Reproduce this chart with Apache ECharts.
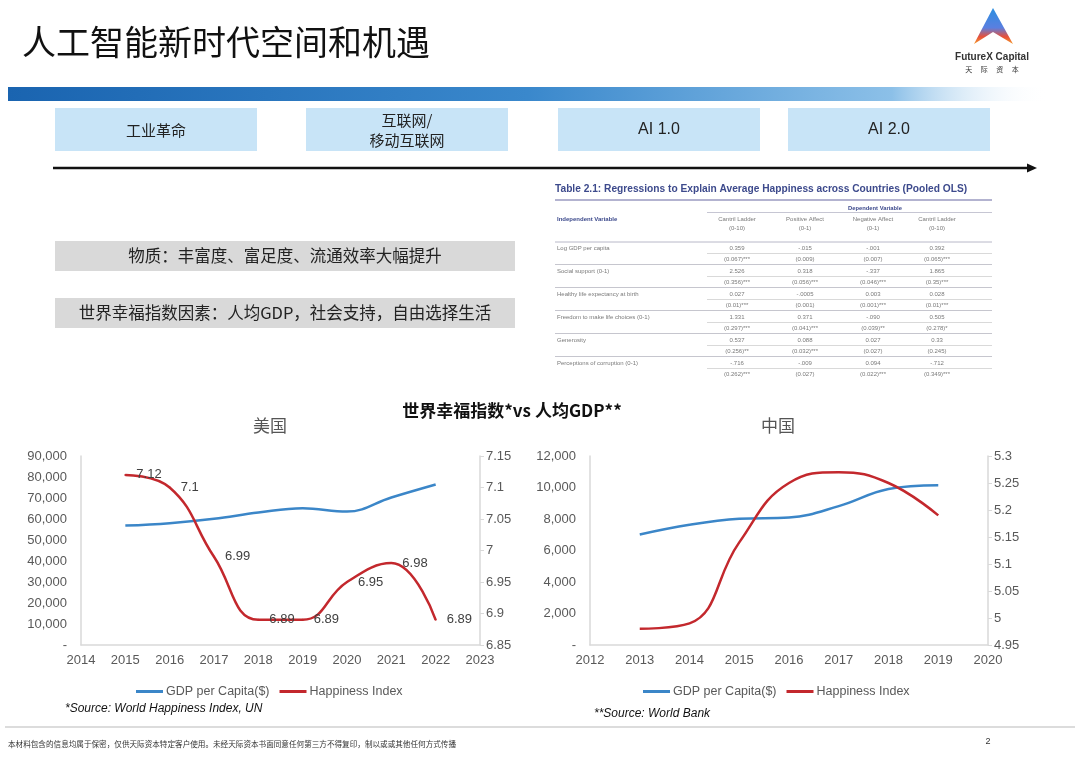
<!DOCTYPE html>
<html><head><meta charset="utf-8">
<script src="https://cdn.jsdelivr.net/npm/echarts@6/dist/echarts.min.js"></script>
<style>html,body{margin:0;padding:0;background:#fff;}#c{width:1080px;height:769px;}</style>
</head><body><div id="c"></div>
<script>
// ---- data ----
const usYears = [2015, 2016, 2017, 2018, 2019, 2020, 2021, 2022];
const usGDP = [56863, 58021, 60110, 63064, 65120, 63530, 70219, 76399];
const usHappy = [7.12, 7.1, 6.99, 6.89, 6.89, 6.95, 6.98, 6.89];
const cnYears = [2013, 2014, 2015, 2016, 2017, 2018, 2019];
const cnGDP = [7020, 7636, 8016, 8094, 8817, 9905, 10144];
const cnHappy = [4.98, 4.99, 5.14, 5.25, 5.27, 5.25, 5.19];
const seriesNames = ['GDP per Capita($)', 'Happiness Index'];
const eraLabels = ['工业革命', '互联网/\n移动互联网', 'AI 1.0', 'AI 2.0'];
const noteLines = ['物质：丰富度、富足度、流通效率大幅提升', '世界幸福指数因素：人均GDP，社会支持，自由选择生活'];
const tableTitle = 'Table 2.1: Regressions to Explain Average Happiness across Countries (Pooled OLS)';
const tableCols = ['Cantril Ladder\n(0-10)', 'Positive Affect\n(0-1)', 'Negative Affect\n(0-1)', 'Cantril Ladder\n(0-10)'];
const tableRows = ['Log GDP per capita', 'Social support (0-1)', 'Healthy life expectancy at birth', 'Freedom to make life choices (0-1)', 'Generosity', 'Perceptions of corruption (0-1)'];
const tableCoef = [
  ['0.359', '-.015', '-.001', '0.392'],
  ['2.526', '0.318', '-.337', '1.865'],
  ['0.027', '-.0005', '0.003', '0.028'],
  ['1.331', '0.371', '-.090', '0.505'],
  ['0.537', '0.088', '0.027', '0.33'],
  ['-.716', '-.009', '0.094', '-.712']
];
const tableSE = [
  ['(0.067)***', '(0.009)', '(0.007)', '(0.065)***'],
  ['(0.356)***', '(0.056)***', '(0.046)***', '(0.35)***'],
  ['(0.01)***', '(0.001)', '(0.001)***', '(0.01)***'],
  ['(0.297)***', '(0.041)***', '(0.039)**', '(0.278)*'],
  ['(0.256)**', '(0.032)***', '(0.027)', '(0.245)'],
  ['(0.262)***', '(0.027)', '(0.022)***', '(0.349)***']
];

const BLUE = '#3b86c8', RED = '#c3282d', AX = '#d9d9d9', LAB = '#595959';
const CJK = '"Noto Sans CJK SC", sans-serif';
const LAT = '"Liberation Sans", Arial, sans-serif';

function T(x, y, text, o) {
  return { type: 'text', x: x, y: y, silent: true, z: 10,
    style: Object.assign({ text: text, fill: '#222', fontSize: 12, fontFamily: CJK, align: 'left', verticalAlign: 'middle' }, o || {}) };
}
function R(x, y, w, h, fill) { return { type: 'rect', silent: true, shape: { x: x, y: y, width: w, height: h }, style: { fill: fill } }; }
function L(x1, y1, x2, y2, color, w) { return { type: 'line', silent: true, shape: { x1: x1, y1: y1, x2: x2, y2: y2 }, style: { stroke: color, lineWidth: w } }; }

const g = [];
// title
g.push(T(22, 42, '人工智能新时代空间和机遇', { fontSize: 34, fill: '#111' }));
// logo
g.push({ type: 'polygon', silent: true, shape: { points: [[993, 8], [1013, 44], [993, 32], [974, 44]] },
  style: { fill: { type: 'linear', x: 0, y: 0, x2: 0, y2: 1, colorStops: [{ offset: 0, color: '#2b8fe0' }, { offset: 0.55, color: '#5a7fe0' }, { offset: 0.8, color: '#e8503a' }, { offset: 1, color: '#f39a2a' }] } } });
g.push(T(992, 57, 'FutureX Capital', { fontSize: 10, fontWeight: 'bold', fontFamily: LAT, fill: '#333', align: 'center' }));
g.push(T(992, 69, '天　 际　 资　 本', { fontSize: 7, fill: '#333', align: 'center' }));
// gradient bar
g.push({ type: 'rect', silent: true, shape: { x: 8, y: 87, width: 1040, height: 14 },
  style: { fill: { type: 'linear', x: 0, y: 0, x2: 1, y2: 0, colorStops: [{ offset: 0, color: '#1a64b0' }, { offset: 0.5, color: '#3a88cc' }, { offset: 0.85, color: '#8cc0e8' }, { offset: 1, color: 'rgba(255,255,255,0)' }] } } });
// era boxes
const boxX = [55, 306, 558, 788];
eraLabels.forEach(function (t, i) {
  g.push(R(boxX[i], 108, 202, 43, '#c8e4f7'));
  const isAI = t.indexOf('AI') === 0;
  g.push(T(boxX[i] + 101, 130, t, { fontSize: isAI ? 16 : 15, align: 'center', fill: '#222', lineHeight: 20, fontFamily: isAI ? LAT : CJK }));
});
// arrow
g.push(L(53, 168, 1030, 168, '#111', 2.5));
g.push({ type: 'polygon', silent: true, shape: { points: [[1027, 163.5], [1037, 168], [1027, 172.5]] }, style: { fill: '#111' } });
// grey note boxes
[241, 298].forEach(function (y, i) {
  g.push(R(55, y, 460, 30, '#d9d9d9'));
  g.push(T(285, y + 15, noteLines[i], { fontSize: 16.5, align: 'center', fill: '#222' }));
});
// table
const TC = '#3d4a8c', TG = '#7a7a7a';
g.push(T(555, 189, tableTitle, { fontSize: 10.2, fontWeight: 'bold', fontFamily: LAT, fill: TC }));
g.push(L(555, 200, 992, 200, '#9a9ac0', 1.5));
g.push(T(875, 208, 'Dependent Variable', { fontSize: 5.8, fontWeight: 'bold', fontFamily: LAT, fill: TC, align: 'center' }));
g.push(L(707, 212.5, 992, 212.5, '#b8b8c8', 0.8));
g.push(T(557, 219, 'Independent Variable', { fontSize: 6, fontWeight: 'bold', fontFamily: LAT, fill: TC }));
const colX = [737, 805, 873, 937];
tableCols.forEach(function (c, i) {
  g.push(T(colX[i], 223.5, c, { fontSize: 6, fontFamily: LAT, fill: TG, align: 'center', lineHeight: 9 }));
});
g.push(L(555, 242, 992, 242, '#b8b8c8', 1));
tableRows.forEach(function (r, k) {
  const y0 = 248 + k * 23;
  g.push(T(557, y0, r, { fontSize: 6, fontFamily: LAT, fill: TG }));
  for (let j = 0; j < 4; j++) {
    g.push(T(colX[j], y0, tableCoef[k][j], { fontSize: 6, fontFamily: LAT, fill: TG, align: 'center' }));
    g.push(T(colX[j], y0 + 11, tableSE[k][j], { fontSize: 6, fontFamily: LAT, fill: TG, align: 'center' }));
  }
  g.push(L(707, y0 + 5.5, 992, y0 + 5.5, '#c8c8c8', 0.7));
  if (k < tableRows.length - 1) g.push(L(555, y0 + 16.5, 992, y0 + 16.5, '#c0c0c8', 0.9));
});
// chart titles
g.push(T(512, 411, '世界幸福指数*vs 人均GDP**', { fontSize: 17, fontWeight: 'bold', align: 'center', fill: '#111' }));
g.push(T(270, 426, '美国', { fontSize: 17, align: 'center', fill: '#555' }));
g.push(T(778, 426, '中国', { fontSize: 17, align: 'center', fill: '#555' }));
// sources
g.push(T(65, 709, '*Source: World Happiness Index, UN', { fontSize: 12, fontStyle: 'italic', fontFamily: LAT, fill: '#111' }));
g.push(T(594, 714, '**Source: World Bank', { fontSize: 12, fontStyle: 'italic', fontFamily: LAT, fill: '#111' }));
// footer
g.push(L(5, 727, 1075, 727, '#d0d0d0', 1.5));
g.push(T(8, 744, '本材料包含的信息均属于保密，仅供天际资本特定客户使用。未经天际资本书面同意任何第三方不得复印，制以或或其他任何方式传播', { fontSize: 7.6, fill: '#333' }));
g.push(T(988, 742, '2', { fontSize: 9, fontFamily: LAT, fill: '#333', align: 'center' }));

function pairs(xs, ys) { return xs.map(function (x, i) { return [x, ys[i]]; }); }
const axLabel = { color: LAB, fontSize: 13, fontFamily: LAT };
function xAxis(idx, min, max) {
  return { type: 'value', gridIndex: idx, min: min, max: max, interval: 1,
    axisLine: { show: true, lineStyle: { color: AX, width: 1.5 } }, axisTick: { show: false }, splitLine: { show: false },
    axisLabel: Object.assign({ margin: 9, formatter: function (v) { return String(v); } }, axLabel) };
}
function yLeft(idx, max, interval) {
  return { type: 'value', gridIndex: idx, position: 'left', min: 0, max: max, interval: interval,
    axisLine: { show: true, lineStyle: { color: AX, width: 1.5 } }, axisTick: { show: false }, splitLine: { show: false },
    axisLabel: Object.assign({ margin: 14, formatter: function (v) { return v === 0 ? '-' : v.toLocaleString('en-US'); } }, axLabel) };
}
function yRight(idx, min, max) {
  return { type: 'value', gridIndex: idx, position: 'right', min: min, max: max, interval: 0.05,
    axisLine: { show: true, lineStyle: { color: AX, width: 1.5 } }, axisTick: { show: true, length: 4, lineStyle: { color: AX } }, splitLine: { show: false },
    axisLabel: Object.assign({ margin: 6, formatter: function (v) { return String(Math.round(v * 100) / 100); } }, axLabel) };
}
function legend(left) {
  return { left: left, top: 680, itemWidth: 27, itemHeight: 3, itemGap: 10, icon: 'rect', data: seriesNames,
    textStyle: { color: LAB, fontSize: 12.5, fontFamily: LAT, padding: [0, 0, 0, -2] } };
}

const option = {
  backgroundColor: '#fff',
  animation: false,
  graphic: g,
  grid: [
    { left: 81, top: 456, width: 399, height: 189 },
    { left: 590, top: 456, width: 398, height: 189 }
  ],
  legend: [legend(131), legend(638)],
  xAxis: [xAxis(0, 2014, 2023), xAxis(1, 2012, 2020)],
  yAxis: [yLeft(0, 90000, 10000), yRight(0, 6.85, 7.15), yLeft(1, 12000, 2000), yRight(1, 4.95, 5.3)],
  series: [
    { name: seriesNames[0], type: 'line', xAxisIndex: 0, yAxisIndex: 0, smooth: 0.4, showSymbol: false,
      data: pairs(usYears, usGDP), lineStyle: { color: BLUE, width: 2.5 }, itemStyle: { color: BLUE } },
    { name: seriesNames[1], type: 'line', xAxisIndex: 0, yAxisIndex: 1, smooth: 0.45, symbol: 'circle', symbolSize: 2,
      data: pairs(usYears, usHappy), lineStyle: { color: RED, width: 2.5 }, itemStyle: { color: RED },
      label: { show: true, position: 'right', distance: 10, color: '#404040', fontSize: 13, fontFamily: LAT,
        formatter: function (p) { return String(p.value[1]); } } },
    { name: seriesNames[0], type: 'line', xAxisIndex: 1, yAxisIndex: 2, smooth: 0.4, showSymbol: false,
      data: pairs(cnYears, cnGDP), lineStyle: { color: BLUE, width: 2.5 }, itemStyle: { color: BLUE } },
    { name: seriesNames[1], type: 'line', xAxisIndex: 1, yAxisIndex: 3, smooth: 0.45, showSymbol: false,
      data: pairs(cnYears, cnHappy), lineStyle: { color: RED, width: 2.5 }, itemStyle: { color: RED } }
  ]
};
const chart = echarts.init(document.getElementById('c'), null, { renderer: 'canvas' });
chart.setOption(option);
</script></body></html>
